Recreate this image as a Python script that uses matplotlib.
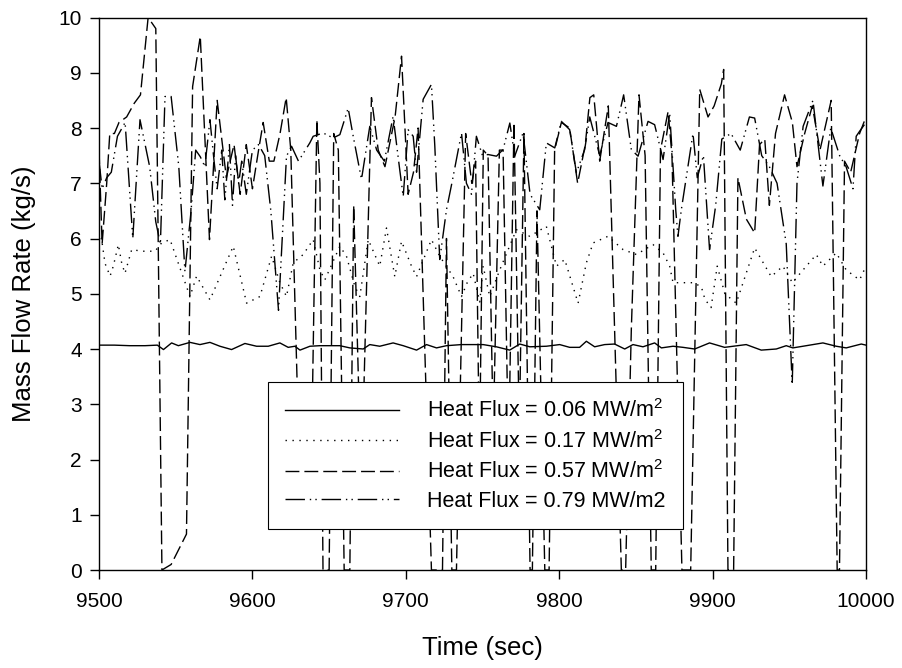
import matplotlib
matplotlib.use('Agg')
import matplotlib.pyplot as plt

plt.rcParams['font.family'] = ['Liberation Sans', 'DejaVu Sans']
plt.rcParams['mathtext.default'] = 'regular'

labels = ['Heat Flux = 0.06 MW/m$^2$', 'Heat Flux = 0.17 MW/m$^2$',
          'Heat Flux = 0.57 MW/m$^2$', 'Heat Flux = 0.79 MW/m2']
xticks = [9500, 9600, 9700, 9800, 9900, 10000]
yticks = [0, 1, 2, 3, 4, 5, 6, 7, 8, 9, 10]

# Heat flux 0.06 MW/m2 (solid)
t1 = [9500, 9510, 9520, 9530, 9538, 9542, 9547.3, 9551.7, 9559.3, 9565.8, 9572.3, 9578.8,
      9586.4, 9595.1, 9602.7, 9610.3, 9617.9, 9623.3, 9627.7, 9631, 9637.5, 9644, 9652,
      9657, 9663.5, 9672.2, 9676.5, 9683, 9691.7, 9698.3, 9707, 9713.5, 9720, 9726.5,
      9736.3, 9750.4, 9759, 9767.7, 9774.3, 9780.8, 9791.6, 9800.3, 9806.8, 9813.3,
      9817.7, 9823.1, 9829.6, 9836.1, 9842.7, 9848.1, 9854.6, 9862.2, 9866.6, 9874.2,
      9880.7, 9888.3, 9898, 9907.8, 9921.9, 9931.7, 9941.5, 9948, 9952.3, 9958.9, 9971.9,
      9980.6, 9987.1, 9996.9, 10000]
q1 = [4.07, 4.07, 4.06, 4.06, 4.07, 3.99, 4.11, 4.06, 4.12, 4.08, 4.12, 4.05,
      3.99, 4.10, 4.05, 4.05, 4.11, 4.03, 4.05, 3.98, 4.05, 4.06, 4.06,
      4.06, 4.02, 4.00, 4.08, 4.05, 4.11, 4.06, 3.98, 4.08, 4.02, 4.06,
      4.08, 4.08, 4.04, 3.98, 4.09, 4.04, 4.05, 4.08, 4.03, 4.03,
      4.14, 4.04, 4.08, 4.09, 4.00, 4.08, 4.04, 4.11, 4.02, 4.05,
      4.03, 4.00, 4.11, 4.03, 4.08, 3.98, 4.00, 4.06, 4.02, 4.05, 4.11,
      4.05, 4.02, 4.09, 4.07]

# Heat flux 0.17 MW/m2 (dotted)
t2 = [9500, 9501.7, 9503.9, 9507.2, 9509.3, 9512.6, 9514.8, 9516.9, 9521.3, 9527.8, 9536.5,
      9540.8, 9546.3, 9551.7, 9559.3, 9563.6, 9572.3, 9587.5, 9596.2, 9604.9, 9612.5,
      9617.9, 9622.2, 9626.6, 9633.1, 9639.6, 9644, 9647.2, 9657, 9661.3, 9666.8, 9670,
      9675.5, 9683, 9687.4, 9692.8, 9697.2, 9703.7, 9707, 9716.7, 9722.1, 9730.8, 9736.3,
      9740, 9743.9, 9748.2, 9750.4, 9754.7, 9761.2, 9772.1, 9780.8, 9791.6, 9798.2,
      9803.6, 9812.3, 9817.7, 9822.1, 9831.8, 9841.6, 9850.3, 9861.1, 9867.7, 9872,
      9874.2, 9887.2, 9892.6, 9895, 9899, 9903, 9908, 9915.4, 9927.4, 9938.2, 9945.8,
      9952, 9958, 9967.6, 9971.9, 9980.6, 9987.1, 9995.8, 10000]
q2 = [6.0, 5.98, 5.55, 5.32, 5.50, 5.89, 5.55, 5.37, 5.80, 5.77, 5.77,
      5.92, 5.98, 5.55, 4.95, 5.32, 4.89, 5.86, 4.83, 4.95, 5.68,
      5.20, 4.95, 5.56, 5.71, 5.98, 5.43, 5.25, 5.86, 5.68, 5.13, 4.95,
      5.98, 5.50, 6.19, 5.31, 5.95, 5.50, 5.31, 5.98, 5.68, 5.31, 4.95,
      5.20, 5.37, 4.85, 5.50, 4.95, 5.43, 6.16, 6.04, 6.22, 5.50,
      5.62, 4.83, 5.56, 5.92, 6.04, 5.80, 5.71, 5.89, 5.74, 5.50,
      5.20, 5.20, 5.13, 4.90, 4.75, 5.50, 5.00, 4.83, 5.83, 5.31, 5.50,
      5.20, 5.40, 5.71, 5.50, 5.74, 5.43, 5.25, 5.50]

# Heat flux 0.57 MW/m2 (dashed)
t3 = [9500, 9502, 9505, 9507, 9510, 9513, 9518, 9523, 9527, 9532, 9537, 9541, 9547, 9557,
      9561, 9566, 9572, 9577, 9583, 9588, 9592, 9596, 9600, 9604, 9607, 9611, 9614, 9618,
      9622, 9625, 9631, 9638, 9642, 9644, 9646, 9650, 9653, 9656, 9659.8, 9663.5, 9666,
      9671, 9677.6, 9682, 9686.4, 9693, 9697.2, 9701.5, 9705, 9708, 9716.7, 9723.9,
      9726.5, 9730, 9733, 9739, 9743, 9745.5, 9748, 9750.5, 9753.6, 9757, 9761, 9763.4,
      9767, 9770.5, 9774, 9777, 9781, 9782.5, 9785.5, 9790.6, 9793.4, 9797, 9801.4,
      9806.8, 9812, 9817, 9820, 9822.5, 9826.4, 9832, 9840.5, 9843.3, 9847, 9852, 9856,
      9860, 9862.9, 9866, 9871, 9873.5, 9880, 9885.7, 9891.6, 9897, 9901, 9905.7, 9907.2,
      9910, 9913.7, 9916.5, 9922, 9927.4, 9930.6, 9934, 9937, 9941, 9946.9, 9952, 9955,
      9960, 9965, 9970, 9977.3, 9981.2, 9982.7, 9986, 9990, 9995.8, 10000]
q3 = [7.6, 5.9, 7.0, 7.9, 7.9, 8.1, 8.2, 8.45, 8.6, 10.0, 9.8, 0.0, 0.1, 0.65,
      8.75, 9.66, 5.98, 8.5, 7.1, 7.7, 6.8, 7.7, 6.9, 7.6, 8.1, 7.4, 7.4, 7.9,
      8.55, 7.6, 1.5, 1.2, 8.15, 7.0, 0.0, 0.0, 7.9, 7.6, 0.0, 0.0, 6.6,
      1.5, 8.55, 7.6, 7.3, 8.2, 9.3, 6.8, 7.2, 8.0, 0.0, 0.0,
      6.0, 0.0, 0.0, 7.9, 7.0, 7.4, 2.0, 7.6, 7.5, 2.5, 7.6, 7.6,
      2.0, 8.1, 2.5, 7.9, 0.0, 0.0, 6.5, 0.0, 0.0, 7.6, 8.1,
      8.0, 7.0, 7.7, 8.55, 8.6, 7.4, 8.4, 0.0, 0.0, 4.35, 8.6, 7.5,
      0.0, 0.0, 7.6, 8.3, 7.5, 0.0, 0.0, 8.7, 8.2, 8.4, 8.8, 9.06,
      0.0, 0.0, 7.1, 6.35, 6.1, 7.7, 7.8, 6.6, 7.9, 8.6, 8.1, 7.3,
      7.9, 8.4, 7.6, 8.5, 0.0, 0.0, 7.4, 7.2, 7.9, 8.2]

# Heat flux 0.79 MW/m2 (dash-dot-dot)
t4 = [9500, 9502, 9505, 9508, 9512, 9515, 9517, 9522, 9526.7, 9533, 9537, 9540, 9543, 9547,
      9552, 9556, 9560, 9563, 9566, 9569, 9572.3, 9575, 9577, 9580, 9582, 9585, 9587, 9589,
      9591, 9593, 9596, 9600, 9604, 9608, 9612, 9617, 9622.2, 9625.5, 9630, 9637.4, 9639.6,
      9646.1, 9652.6, 9657, 9662.4, 9665.7, 9671.1, 9676.5, 9681, 9686, 9691.7, 9696,
      9698.3, 9701.5, 9704.8, 9707, 9711.3, 9716.7, 9718.9, 9722.1, 9726.5, 9730, 9736.3,
      9739.5, 9742.8, 9746, 9750, 9753.6, 9759.1, 9763.4, 9767.8, 9771, 9776.4, 9781,
      9787.3, 9791.6, 9797.1, 9801.4, 9806.8, 9811.2, 9816.6, 9819.9, 9826.4, 9831.8,
      9837.3, 9842, 9847, 9851.4, 9857.9, 9862.2, 9867.7, 9872, 9876, 9877.4, 9879.6,
      9887.2, 9890, 9894, 9898, 9902, 9906, 9912, 9918, 9924, 9927.4, 9932, 9937, 9942,
      9948, 9951.9, 9955, 9959, 9965.4, 9971.9, 9977, 9982.8, 9987, 9991.5, 9993.6,
      9995.8, 10000]
q4 = [7.4, 6.9, 7.1, 7.2, 7.85, 8.0, 8.1, 6.0, 8.15, 7.3, 6.3, 5.9, 8.57, 8.57,
      7.3, 5.4, 6.5, 7.6, 7.48, 7.3, 8.15, 7.4, 6.9, 7.6, 6.7, 7.7, 6.6, 7.5,
      7.0, 7.4, 6.8, 7.6, 7.7, 7.5, 6.5, 4.7, 7.49, 7.67, 7.4, 7.73, 7.85,
      7.91, 7.82, 7.88, 8.36, 7.85, 7.07, 8.03, 7.6, 7.4, 8.21, 7.25,
      6.76, 7.97, 7.85, 7.2, 8.52, 8.79, 7.67, 5.62, 6.52, 7.0, 7.91,
      7.0, 6.8, 7.85, 7.5, 7.52, 7.49, 7.61, 8.09, 7.49, 7.91, 6.8,
      6.52, 7.73, 7.64, 8.12, 7.97, 7.19, 7.61, 8.2, 7.5, 8.1,
      8.03, 8.6, 7.61, 7.49, 8.12, 8.06, 7.43, 8.27, 6.5, 6.04, 6.52,
      7.9, 7.1, 7.5, 5.8, 6.6, 7.8, 7.9, 7.6, 8.2, 8.18, 7.5, 7.3, 7.0,
      5.9, 3.35, 7.0, 8.03, 8.5, 6.95, 8.0, 7.5, 7.3, 6.9, 7.85,
      7.94, 8.1]

fig = plt.figure(figsize=(9.02, 6.68), dpi=100)
ax = fig.add_axes([0.1098, 0.1467, 0.8503, 0.8271])

ax.plot(t1, q1, color='black', lw=1.0, linestyle='-', label=labels[0])
ax.plot(t2, q2, color='black', lw=1.0, linestyle=(0, (1, 4)), label=labels[1])
ax.plot(t3, q3, color='black', lw=1.0, linestyle=(0, (10, 3.6)), label=labels[2])
ax.plot(t4, q4, color='black', lw=1.0, linestyle=(0, (14, 3.5, 1, 3, 1, 3.5)), label=labels[3])

ax.set_xlim(9500, 10000)
ax.set_ylim(0, 10)
ax.set_xticks(xticks)
ax.set_yticks(yticks)
ax.tick_params(direction='out', length=6.5, width=1.0, labelsize=15, top=False, right=False)
ax.tick_params(axis='x', pad=9)
ax.tick_params(axis='y', pad=6)
for s in ax.spines.values():
    s.set_linewidth(1.0)

ax.set_xlabel('Time (sec)', fontsize=18.5, labelpad=18)
ax.set_ylabel('Mass Flow Rate (kg/s)', fontsize=18.5, labelpad=16)

leg = ax.legend(loc='upper left', bbox_to_anchor=(0.2203, 0.340), fontsize=15.5,
                handlelength=5.3, handletextpad=1.3, borderpad=0.8, labelspacing=0.35,
                frameon=True, fancybox=False, framealpha=1, edgecolor='black',
                borderaxespad=0)
leg.get_frame().set_linewidth(0.8)

fig.savefig('out.png', dpi=100)
